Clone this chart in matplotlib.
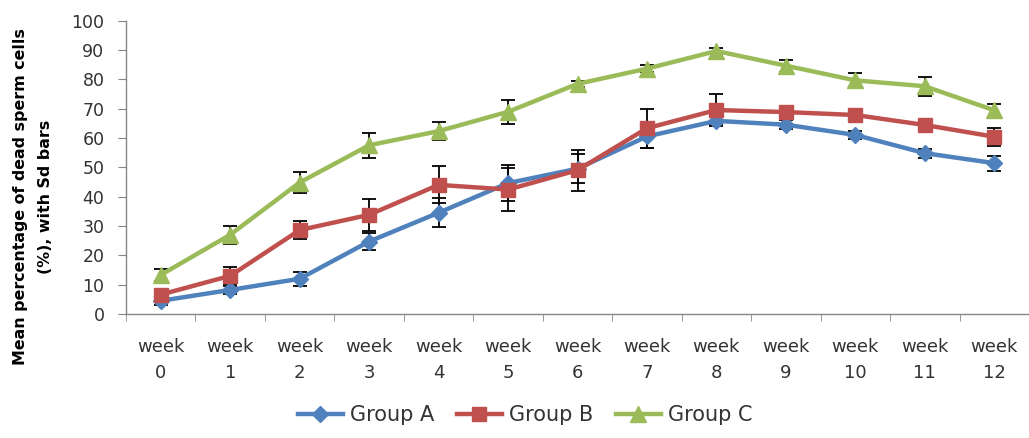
import matplotlib
matplotlib.use("Agg")
import matplotlib.pyplot as plt
import numpy as np

weeks = [f"week\n{i}" for i in range(13)]

group_a = [4.5, 8.2, 12.0, 24.7, 34.5, 44.6, 49.5, 60.5, 65.8, 64.5, 61.0, 54.8, 51.4]
group_a_sd = [1.5, 1.5, 2.4, 3.0, 5.0, 6.0, 5.0, 4.0, 1.5, 1.5, 1.5, 1.5, 2.6]

group_b = [6.6, 13.0, 28.6, 33.8, 44.0, 42.4, 49.0, 63.3, 69.5, 68.8, 67.8, 64.4, 60.4]
group_b_sd = [1.5, 2.9, 3.0, 5.5, 6.3, 7.2, 7.0, 6.7, 5.6, 1.5, 1.5, 1.5, 3.0]

group_c = [13.3, 27.0, 44.8, 57.5, 62.3, 68.9, 78.4, 83.6, 89.6, 84.6, 79.6, 77.6, 69.4]
group_c_sd = [2.2, 3.0, 3.6, 4.2, 3.0, 4.1, 1.0, 1.2, 1.0, 2.0, 2.6, 3.2, 2.2]

series = [
    ("Group A", group_a, group_a_sd, "#4F81BD", "D", 8),
    ("Group B", group_b, group_b_sd, "#C0504D", "s", 10),
    ("Group C", group_c, group_c_sd, "#9BBB59", "^", 11),
]

plt.rcParams["font.family"] = ["DejaVu Sans"]

W, H = 1029, 438
fig = plt.figure(figsize=(W / 100, H / 100), dpi=100)
ax = fig.add_axes([126 / W, 1 - 314 / H, 1 - 126 / W, (314 - 20.5) / H])

x = np.arange(len(weeks))
for name, vals, sd, color, marker, ms in series:
    ax.errorbar(x, vals, yerr=sd, fmt="none", ecolor="black", elinewidth=1.3,
                capsize=5, capthick=1.3, zorder=2)
    ax.plot(x, vals, color=color, lw=3.2, marker=marker, markersize=ms,
            label=name, zorder=3)

ax.set_xlim(-0.5, 12.5)
ax.set_ylim(0, 100)
ax.set_yticks(range(0, 101, 10))
ax.set_xticks(x)
ax.set_xticklabels(weeks, fontsize=13, linespacing=1.6, color="#333333")
ax.set_xticks(np.arange(-0.5, 13, 1), minor=True)
ax.tick_params(axis="x", which="major", length=0, pad=17)
ax.tick_params(axis="x", which="minor", length=5, color="#868686")
ax.tick_params(axis="y", length=6, color="#868686", labelsize=12.5,
               labelcolor="#333333", pad=9.5)

for side in ("top", "right"):
    ax.spines[side].set_visible(False)
for side in ("left", "bottom"):
    ax.spines[side].set_color("#868686")
    ax.spines[side].set_linewidth(1.0)

fig.text(33 / W, 1 - 197 / H, "Mean percentage of dead sperm cells\n(%), with Sd bars",
         rotation=90, ha="center", va="center", multialignment="center",
         fontsize=11.4, fontweight="bold", linespacing=1.85)

fig.legend(loc="center", bbox_to_anchor=(525 / W, 1 - 415 / H), ncol=3, frameon=False,
           fontsize=15, handlelength=2.16, columnspacing=1.1, handletextpad=0.33,
           labelcolor="#333333")

fig.savefig("out.png", dpi=100, facecolor="white")
